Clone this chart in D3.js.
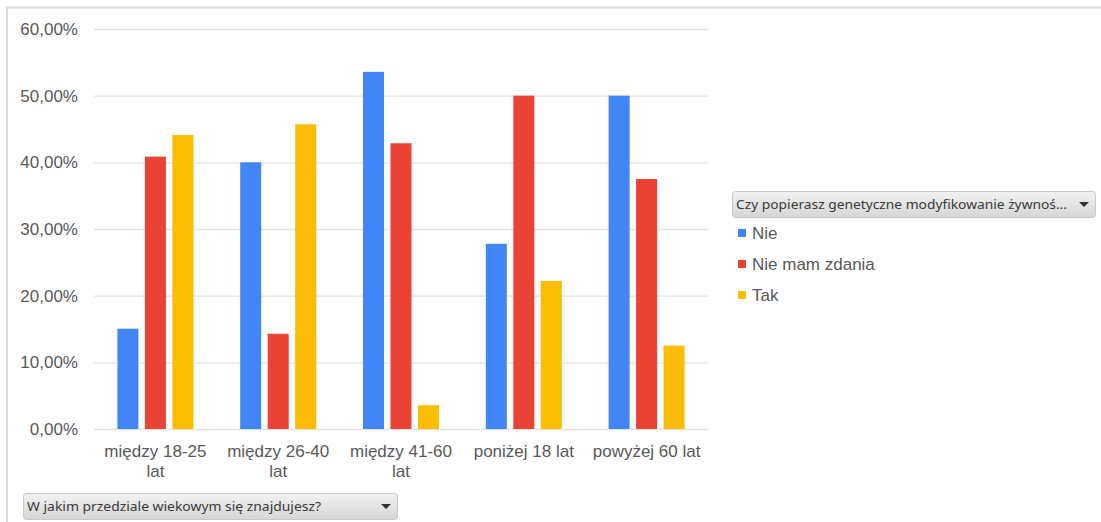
<!DOCTYPE html>
<html>
<head>
<meta charset="utf-8">
<script src="https://cdn.jsdelivr.net/npm/d3@7"></script>
<style>
  html, body { margin: 0; padding: 0; background: #fff; }
  svg { display: block; }
</style>
</head>
<body>
<svg id="chart" width="1101" height="522"></svg>
<script>
const categories = [["między 18-25", "lat"], ["między 26-40", "lat"], ["między 41-60", "lat"], ["poniżej 18 lat"], ["powyżej 60 lat"]];
const categoryKeys = ["między 18-25 lat", "między 26-40 lat", "między 41-60 lat", "poniżej 18 lat", "powyżej 60 lat"];
const seriesNames = ["Nie", "Nie mam zdania", "Tak"];
const nieValues = [0.1505, 0.40, 0.5357, 0.2778, 0.50];
const nieMamZdaniaValues = [0.4086, 0.1429, 0.4286, 0.50, 0.375];
const takValues = [0.4409, 0.4571, 0.0357, 0.2222, 0.125];
const seriesColors = ["#4285F4", "#EA4335", "#FBBC04"];
const yTicks = [0, 0.1, 0.2, 0.3, 0.4, 0.5, 0.6];
const legendTitle = "Czy popierasz genetyczne modyfikowanie żywnoś...";
const axisFieldTitle = "W jakim przedziale wiekowym się znajdujesz?";

const seriesValues = [nieValues, nieMamZdaniaValues, takValues];

const svg = d3.select("#chart");
const textColor = "#595959";
const font = "'Liberation Sans', Arial, sans-serif";
const btnFont = "'Noto Sans', 'Open Sans', sans-serif";

// frame (top and left lines)
svg.append("line").attr("x1", 6).attr("x2", 1101).attr("y1", 7.5).attr("y2", 7.5)
  .attr("stroke", "#dadada").attr("stroke-width", 2);
svg.append("line").attr("x1", 7).attr("x2", 7).attr("y1", 7).attr("y2", 522)
  .attr("stroke", "#dadada").attr("stroke-width", 2);

const x0 = d3.scaleBand().domain(categoryKeys).range([94, 708]).padding(0);
const groupW = 76;
const x1 = d3.scaleBand().domain(seriesNames)
  .range([(x0.bandwidth() - groupW) / 2, (x0.bandwidth() + groupW) / 2])
  .paddingInner(0.236).paddingOuter(0);
const y = d3.scaleLinear().domain([0, 0.6]).range([429, 29]);

// gridlines
const yAxis = d3.axisLeft(y).tickValues(yTicks)
  .tickSize(-(708 - 94))
  .tickFormat(d => d3.format(".2f")(d * 100).replace(".", ",") + "%")
  .tickPadding(16);
const gy = svg.append("g").attr("transform", "translate(94,0)").call(yAxis);
gy.select(".domain").remove();
gy.selectAll(".tick line").attr("stroke", "#e3e3e3").attr("stroke-width", 1.3);
gy.selectAll(".tick text").attr("fill", textColor).attr("font-family", font)
  .attr("font-size", "17px");

// bars
const groups = svg.append("g").selectAll("g").data(categoryKeys).join("g")
  .attr("transform", d => `translate(${x0(d)},0)`);
groups.selectAll("rect")
  .data((d, i) => seriesNames.map((s, j) => ({ s, j, v: seriesValues[j][i] })))
  .join("rect")
  .attr("x", d => x1(d.s))
  .attr("width", x1.bandwidth())
  .attr("y", d => y(d.v))
  .attr("height", d => y(0) - y(d.v))
  .attr("fill", d => seriesColors[d.j]);

// x labels
const xl = svg.append("g").selectAll("text").data(categories).join("text")
  .attr("x", (d, i) => x0(categoryKeys[i]) + x0.bandwidth() / 2)
  .attr("y", 457)
  .attr("text-anchor", "middle")
  .attr("fill", textColor).attr("font-family", font).attr("font-size", "17px");
xl.selectAll("tspan").data(d => d).join("tspan")
  .attr("x", function () { return d3.select(this.parentNode).attr("x"); })
  .attr("dy", (d, i) => i === 0 ? 0 : 20)
  .text(d => d);

// buttons
const defs = svg.append("defs");
const grad = defs.append("linearGradient").attr("id", "btnGrad")
  .attr("x1", 0).attr("x2", 0).attr("y1", 0).attr("y2", 1);
grad.append("stop").attr("offset", "0%").attr("stop-color", "#f2f2f2");
grad.append("stop").attr("offset", "100%").attr("stop-color", "#d6d6d6");

function button(x, w, yy, label, textW) {
  const g = svg.append("g").attr("transform", `translate(${x},${yy})`);
  g.append("rect").attr("x", 0.5).attr("y", 0.5).attr("width", w).attr("height", 26)
    .attr("rx", 3).attr("fill", "url(#btnGrad)").attr("stroke", "#c8c8c8");
  g.append("text").attr("x", 4).attr("y", 18).attr("fill", "#3a3a3a")
    .attr("font-family", btnFont).attr("font-size", "13px")
    .attr("textLength", textW).attr("lengthAdjust", "spacingAndGlyphs")
    .text(label);
  g.append("path").attr("d", `M${w - 16},11 L${w - 6},11 L${w - 11},16 Z`).attr("fill", "#333");
}
button(732, 363, 191, legendTitle, 331);
button(23, 374, 493, axisFieldTitle, 294);

// legend items
const leg = svg.append("g").selectAll("g").data(seriesNames).join("g")
  .attr("transform", (d, i) => `translate(738,${233 + i * 31})`);
leg.append("rect").attr("x", 0).attr("y", -4).attr("width", 8).attr("height", 8)
  .attr("fill", (d, i) => seriesColors[i]);
leg.append("text").attr("x", 14).attr("y", 6).attr("fill", textColor)
  .attr("font-family", font).attr("font-size", "17px").text(d => d);
</script>
</body>
</html>
